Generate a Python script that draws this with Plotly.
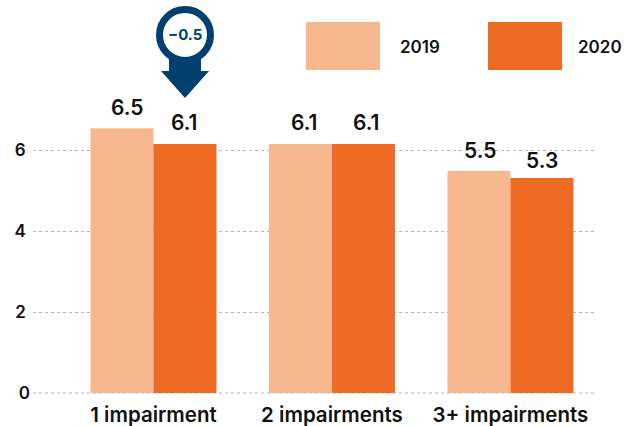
import plotly.graph_objects as go

categories = ["1 impairment", "2 impairments", "3+ impairments"]
series_names = ["2019", "2020"]
values_2019 = [6.54, 6.15, 5.48]
values_2020 = [6.15, 6.15, 5.31]
labels_2019 = ["6.5", "6.1", "5.5"]
labels_2020 = ["6.1", "6.1", "5.3"]
y_ticks = [0, 2, 4, 6]
y_tick_labels = ["0", "2\u00a0", "4\u00a0", "6\u00a0"]
callout_text = "\u22120.5"

W, H = 624, 426
L, R, T, B = 33, 27, 0, 33
FONT = "Inter, 'Open Sans', sans-serif"
LIGHT, DARK, NAVY = "#F8B88F", "#EE6B26", "#003F6E"
INK = "#111111"
GRID = "#B5B5B5"
x_pos = list(range(len(categories)))
offset = 0.1765
shift_2019 = [5, 4, 1]
shift_2020 = [0, 3, 0]
lift_2019 = [6, 7, 6]
lift_2020 = [7, 7, 3]

px = lambda v: (v - L) / (W - L - R)
py = lambda v: 1 - (v - T) / (H - T - B)

fig = go.Figure()
fig.add_bar(x=x_pos, y=values_2019, name=series_names[0], marker_color=LIGHT, marker_line_width=0)
fig.add_bar(x=x_pos, y=values_2020, name=series_names[1], marker_color=DARK, marker_line_width=0)

annotations = []
for i in x_pos:
    for vals, labs, sign, sh, lf in ((values_2019, labels_2019, -1, shift_2019, lift_2019),
                                     (values_2020, labels_2020, 1, shift_2020, lift_2020)):
        annotations.append(dict(x=i + sign * offset, y=vals[i], text=labs[i], xref="x", yref="y",
                                showarrow=False, yanchor="bottom", yshift=lf[i], xshift=sh[i],
                                font=dict(family=FONT, size=21, color=INK, weight=600)))

shapes = []
# dotted baseline at zero (sits under the bars)
shapes.append(dict(type="line", xref="paper", yref="paper", x0=0, x1=1, y0=py(393), y1=py(393),
                   line=dict(color=GRID, width=1, dash="3px,3px"), layer="below"))

def rect(x0, y0, x1, y1, color):
    shapes.append(dict(type="rect", xref="paper", yref="paper", x0=px(x0), x1=px(x1),
                       y0=py(y0), y1=py(y1), fillcolor=color, line_width=0, layer="above"))

rect(306, 22, 380, 70, LIGHT)
rect(488, 22, 562, 70, DARK)

# callout: arrow and ring
pts = [(169, 58), (201, 58), (201, 71), (209, 71), (185, 98), (161, 71), (169, 71)]
path = "M " + " L ".join(f"{px(a):.5f} {py(b):.5f}" for a, b in pts) + " Z"
shapes.append(dict(type="path", xref="paper", yref="paper", path=path, fillcolor=NAVY,
                   line_width=0, layer="above"))
shapes.append(dict(type="circle", xref="paper", yref="paper", x0=px(159.5), x1=px(210.5),
                   y0=py(9.5), y1=py(60.5), fillcolor="white",
                   line=dict(color=NAVY, width=7), layer="above"))

def label(x, y, text, size, color=INK, anchor="center", weight=None):
    f = dict(family=FONT, size=size, color=color)
    if weight:
        f["weight"] = weight
    annotations.append(dict(x=px(x), y=py(y), xref="paper", yref="paper", text=text, showarrow=False,
                            xanchor=anchor, yanchor="middle", font=f))

label(398, 47, series_names[0], 17, anchor="left", weight=600)
label(576, 47, series_names[1], 17, anchor="left", weight=600)
label(185, 35, callout_text, 15, color=NAVY, weight=700)

fig.update_layout(
    width=W, height=H, margin=dict(l=L, r=R, t=T, b=B, pad=0),
    paper_bgcolor="white", plot_bgcolor="white", showlegend=False,
    barmode="group", bargap=0.294, bargroupgap=0,
    font=dict(family=FONT, color=INK),
    shapes=shapes, annotations=annotations,
    xaxis=dict(range=[-0.675, 2.485], tickmode="array", tickvals=x_pos, ticktext=categories,
               showgrid=False, zeroline=False, showline=False, ticks="", ticklabelstandoff=7,
               tickfont=dict(family=FONT, size=20.5, color=INK, weight=600), automargin=False),
    yaxis=dict(range=[0, 393 / 40.5], tickmode="array", tickvals=y_ticks, ticktext=y_tick_labels,
               showgrid=True, gridcolor=GRID, griddash="3px,3px", gridwidth=1,
               zeroline=False, showline=False, ticks="", ticklabelstandoff=2,
               tickfont=dict(family=FONT, size=17, color=INK, weight=600), automargin=False),
)
fig.write_html("out.html", config={"displayModeBar": False}, post_script="document.body.style.margin='0';")
